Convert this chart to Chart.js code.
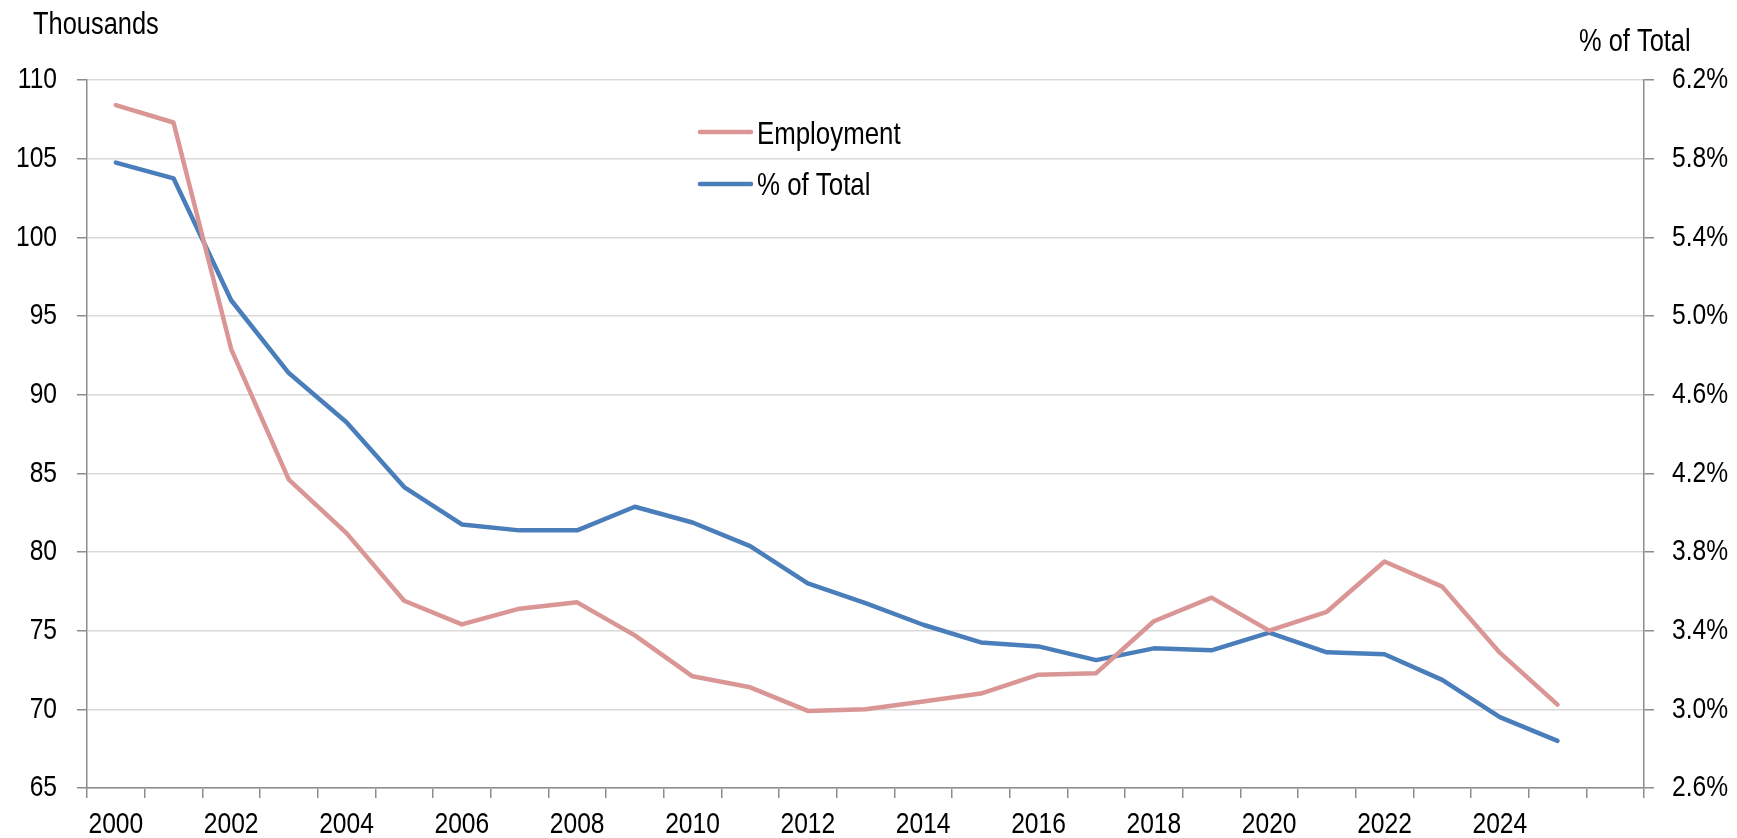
<!DOCTYPE html>
<html>
<head>
<meta charset="utf-8">
<script src="https://cdn.jsdelivr.net/npm/chart.js@4"></script>
<style>
  html, body { margin: 0; padding: 0; background: #ffffff; }
  #wrap { width: 1737px; height: 838px; position: relative; }
</style>
</head>
<body>
<div id="wrap"><canvas id="c"></canvas></div>
<script>
// ---- data ----
const years = ['2000','2001','2002','2003','2004','2005','2006','2007','2008','2009',
               '2010','2011','2012','2013','2014','2015','2016','2017','2018','2019',
               '2020','2021','2022','2023','2024','2025'];
const categories = years.concat(['']);   // one empty trailing category, as in the original
const employment = [108.4, 107.3, 92.9, 84.6, 81.2, 76.9, 75.4, 76.4, 76.8, 74.7,
                    72.1, 71.4, 69.9, 70.0, 70.5, 71.0, 72.2, 72.3, 75.6, 77.1,
                    75.0, 76.2, 79.4, 77.8, 73.6, 70.3];
const shareOfTotal = [5.78, 5.70, 5.08, 4.71, 4.46, 4.13, 3.94, 3.91, 3.91, 4.03,
                      3.95, 3.83, 3.64, 3.54, 3.43, 3.34, 3.32, 3.25, 3.31, 3.30,
                      3.39, 3.29, 3.28, 3.15, 2.96, 2.84];
const seriesNames = ['Employment', '% of Total'];
const leftAxisTitle = 'Thousands';
const rightAxisTitle = '% of Total';

// ---- styles ----
const FONT_FAMILY = '"Liberation Sans", Arial, "DejaVu Sans", sans-serif';
const TICK_SIZE = 30;
const NARROW = 0.82;   // horizontal squeeze to imitate a narrow sans face
const AXIS_COLOR = '#8C8C8C';
const GRID_COLOR = '#D9D9D9';
const PINK = '#D99694';
const BLUE = '#4A7EBB';

Chart.defaults.font.family = FONT_FAMILY;
Chart.defaults.font.size = TICK_SIZE;
Chart.defaults.color = '#000000';

const canvas = document.getElementById('c');
const ctx2d = canvas.getContext('2d');
// all text on this canvas is drawn horizontally condensed (narrow face look)
const origFillText = ctx2d.fillText.bind(ctx2d);
ctx2d.fillText = function (text, x, y, maxWidth) {
  this.save();
  this.translate(x, y);
  this.scale(NARROW, 1);
  if (maxWidth !== undefined) origFillText(text, 0, 0, maxWidth / NARROW);
  else origFillText(text, 0, 0);
  this.restore();
};

const overlayPlugin = {
  id: 'overlay',
  afterDraw(chart) {
    const ctx = chart.ctx;
    ctx.save();
    ctx.fillStyle = '#000000';
    ctx.textAlign = 'left';
    ctx.textBaseline = 'alphabetic';
    ctx.font = '31px ' + FONT_FAMILY;
    ctx.fillText(leftAxisTitle, 33, 34);
    ctx.fillText(rightAxisTitle, 1579, 51);
    // legend
    ctx.font = '31.5px ' + FONT_FAMILY;
    chart.data.datasets.forEach((ds, i) => {
      const ly = 132 + i * 52;
      ctx.strokeStyle = ds.borderColor;
      ctx.lineWidth = 4.5;
      ctx.lineCap = 'round';
      ctx.beginPath();
      ctx.moveTo(700, ly);
      ctx.lineTo(751, ly);
      ctx.stroke();
      ctx.fillText(ds.label, 757, 143.5 + i * 51);
    });
    ctx.restore();
  }
};

new Chart(canvas, {
  type: 'line',
  data: {
    labels: categories,
    datasets: [
      {
        label: seriesNames[0],
        data: employment,
        yAxisID: 'y',
        borderColor: PINK,
        backgroundColor: PINK,
        borderWidth: 4.5,
        pointRadius: 0,
        tension: 0,
        borderJoinStyle: 'round',
        borderCapStyle: 'round'
      },
      {
        label: seriesNames[1],
        data: shareOfTotal,
        yAxisID: 'y1',
        borderColor: BLUE,
        backgroundColor: BLUE,
        borderWidth: 4.5,
        pointRadius: 0,
        tension: 0,
        borderJoinStyle: 'round',
        borderCapStyle: 'round'
      }
    ]
  },
  options: {
    responsive: true,
    maintainAspectRatio: false,
    animation: false,
    layout: { padding: { top: 80, left: 0, right: 0, bottom: 0 } },
    plugins: {
      legend: { display: false },
      tooltip: { enabled: false }
    },
    scales: {
      x: {
        type: 'category',
        offset: true,
        grid: {
          offset: true,
          drawOnChartArea: false,
          drawTicks: true,
          tickLength: 10,
          tickColor: AXIS_COLOR,
          lineWidth: 1.5
        },
        border: { display: true, color: AXIS_COLOR, width: 1.5 },
        ticks: {
          autoSkip: false,
          maxRotation: 0,
          minRotation: 0,
          padding: 12,
          font: { size: TICK_SIZE, lineHeight: 1 },
          callback: function (value, index) {
            return index % 2 === 0 ? this.getLabelForValue(value) : '';
          }
        },
        afterFit(scale) { scale.height = 50; }
      },
      y: {
        position: 'left',
        min: 65,
        max: 110,
        grid: {
          color: GRID_COLOR,
          lineWidth: 1.5,
          tickLength: 10,
          tickColor: AXIS_COLOR
        },
        border: { display: true, color: AXIS_COLOR, width: 1.5 },
        ticks: {
          stepSize: 5,
          padding: 20,
          font: { size: TICK_SIZE, lineHeight: 1 }
        },
        afterFit(scale) { scale.width = 87; }
      },
      y1: {
        position: 'right',
        min: 2.6,
        max: 6.2,
        grid: {
          drawOnChartArea: false,
          tickLength: 10,
          tickColor: AXIS_COLOR,
          lineWidth: 1.5
        },
        border: { display: true, color: AXIS_COLOR, width: 1.5 },
        ticks: {
          stepSize: 0.4,
          padding: 18,
          font: { size: TICK_SIZE, lineHeight: 1 },
          callback: (v) => Number(v).toFixed(1) + '%'
        },
        afterFit(scale) { scale.width = 93; }
      }
    }
  },
  plugins: [overlayPlugin]
});
</script>
</body>
</html>
